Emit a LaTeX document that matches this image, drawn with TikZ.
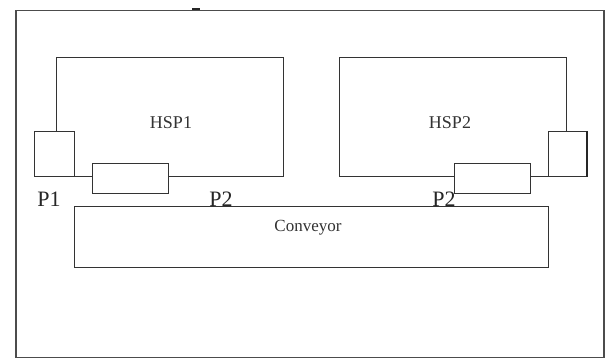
\documentclass[tikz,border=0pt]{standalone}
\usepackage{fontspec}
\setmainfont{Liberation Serif}
\begin{document}
\begin{tikzpicture}[x=1pt,y=-1pt,
  box/.style={draw=black!80, line width=1.4pt, fill=white, inner sep=0pt, anchor=north west},
  lbl/.style={inner sep=0pt, text=black!80, font=\fontsize{18}{18}\selectfont},
  plbl/.style={inner sep=0pt, text=black!85, font=\fontsize{22}{22}\selectfont}]
\useasboundingbox (0,0) rectangle (605,358);
\node[draw=black!70, line width=1.5pt, minimum width=588pt, minimum height=347pt, inner sep=0pt, anchor=north west] (frame) at (15,10) {};
\coordinate (m1) at (192,9);
\coordinate (m2) at (200,9);
\draw[line width=2pt, black!85] (m1) -- (m2);
% HSP boxes
\node[box, minimum width=227pt, minimum height=119pt] (hsp1) at (56,57) {};
\node[box, minimum width=227pt, minimum height=119pt] (hsp2) at (339,57) {};
% small boxes
\node[box, minimum width=40pt, minimum height=45pt] (p1box) at (34,131) {};
\node[box, minimum width=76pt, minimum height=30pt] (r1) at (92,163) {};
\node[box, minimum width=38pt, minimum height=45pt] (p2box) at (548,131) {};
\draw[line width=2pt, black!85] (p2box.north east) -- (p2box.south east);
\node[box, minimum width=76pt, minimum height=30pt] (r2) at (454,163) {};
% conveyor
\node[box, minimum width=474pt, minimum height=61pt] (conv) at (74,206) {};
% texts
\node[lbl] (t1) at (171,123) {HSP1};
\node[lbl] (t2) at (450,123) {HSP2};
\node[lbl, font=\fontsize{17}{17}\selectfont] (tc) at (308,228) {Conveyor};
\node[plbl] (lp1) at (49,199) {P1};
\node[plbl] (lp2) at (221,199) {P2};
\node[plbl] (lp3) at (444,199) {P2};
\end{tikzpicture}
\end{document}
